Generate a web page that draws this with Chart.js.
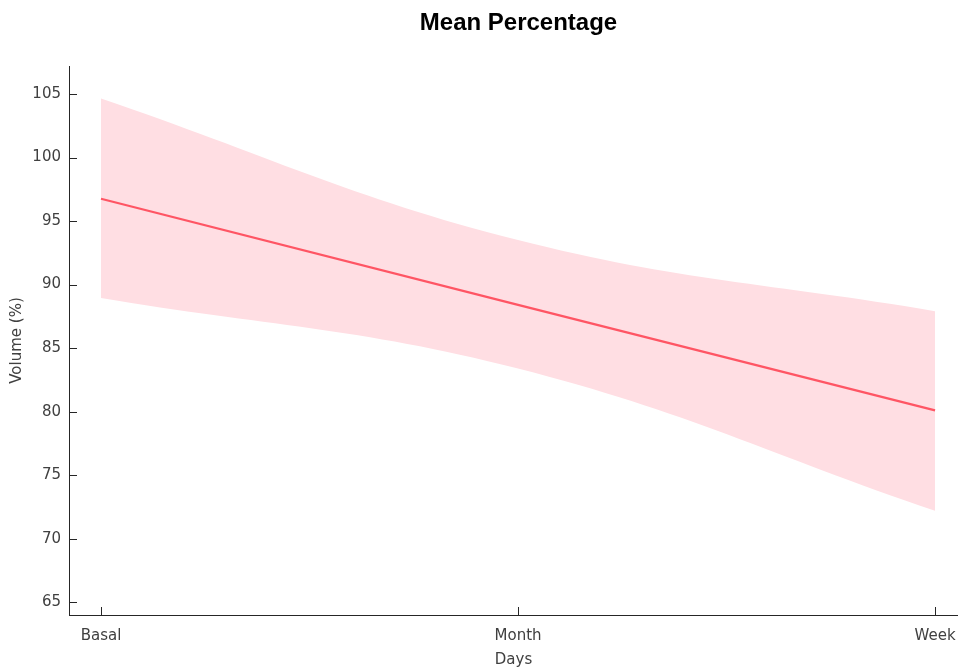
<!DOCTYPE html>
<html>
<head>
<meta charset="utf-8">
<script src="https://cdn.jsdelivr.net/npm/chart.js@4.4.1/dist/chart.umd.min.js"></script>
<style>
html,body{margin:0;padding:0;background:#fff;}
#wrap{width:958px;height:667px;position:relative;}
</style>
</head>
<body>
<div id="wrap"><canvas id="c"></canvas></div>
<script>
const categories = ['Basal', 'Month', 'Week'];
const meanValues = [96.75, 88.4, 80.1];
const upperValues = [104.65, 93.5, 87.9];
const lowerValues = [88.95, 83.4, 72.2];
const yTickValues = [65, 70, 75, 80, 85, 90, 95, 100, 105];
const chartTitle = 'Mean Percentage';
const xTitle = 'Days';
const yTitle = 'Volume (%)';

const toPts = arr => arr.map((v, i) => ({x: i + 1, y: v}));
const textColor = '#404040';
const axisColor = '#262626';
const fontFam = '"DejaVu Sans", sans-serif';

const titlePlugin = {
  id: 'topTitle',
  afterDraw(chart) {
    const ctx = chart.ctx, a = chart.chartArea;
    ctx.save();
    ctx.font = 'bold 24px "Liberation Sans", Arial, sans-serif';
    ctx.fillStyle = '#000';
    ctx.textAlign = 'center';
    ctx.textBaseline = 'middle';
    ctx.fillText(chartTitle, (a.left + a.right) / 2 + 5, 23);
    ctx.restore();
  }
};

const inwardTicks = {
  id: 'inwardTicks',
  afterDraw(chart) {
    const ctx = chart.ctx, a = chart.chartArea;
    const xs = chart.scales.x, ys = chart.scales.y;
    ctx.save();
    ctx.strokeStyle = axisColor;
    ctx.lineWidth = 1;
    ctx.beginPath();
    ys.ticks.forEach(t => {
      const py = Math.round(ys.getPixelForValue(t.value)) + 0.5;
      ctx.moveTo(a.left, py); ctx.lineTo(a.left + 8, py);
    });
    xs.ticks.forEach(t => {
      const px = Math.round(xs.getPixelForValue(t.value)) + 0.5;
      ctx.moveTo(px, a.bottom); ctx.lineTo(px, a.bottom - 8);
    });
    ctx.stroke();
    ctx.restore();
  }
};

new Chart(document.getElementById('c'), {
  type: 'line',
  data: {
    datasets: [
      {
        label: 'Mean',
        data: toPts(meanValues),
        borderColor: 'rgb(255,85,100)',
        borderWidth: 2.2,
        pointRadius: 0,
        tension: 0,
        fill: false
      },
      {
        label: 'Upper',
        data: toPts(upperValues),
        borderWidth: 0,
        borderColor: 'rgba(0,0,0,0)',
        backgroundColor: 'rgba(255,222,227,1)',
        pointRadius: 0,
        tension: 0.4,
        fill: '+1'
      },
      {
        label: 'Lower',
        data: toPts(lowerValues),
        borderWidth: 0,
        borderColor: 'rgba(0,0,0,0)',
        pointRadius: 0,
        tension: 0.4,
        fill: false
      }
    ]
  },
  options: {
    responsive: true,
    maintainAspectRatio: false,
    animation: false,
    layout: {padding: {top: 66, right: 0, left: 0, bottom: 0}},
    plugins: {legend: {display: false}, tooltip: {enabled: false}, title: {display: false}},
    scales: {
      x: {
        type: 'linear',
        min: 0.9233,
        max: 3.055,
        afterBuildTicks: s => { s.ticks = categories.map((c, i) => ({value: i + 1})); },
        afterFit: s => { s.height = 52; s.paddingLeft = 0; s.paddingRight = 0; },
        grid: {display: false, drawTicks: false},
        border: {display: true, color: axisColor, width: 1},
        ticks: {
          callback: v => categories[v - 1] ?? '',
          color: textColor,
          font: {family: fontFam, size: 15},
          padding: 12,
          maxRotation: 0,
          autoSkip: false
        },
        title: {display: true, text: xTitle, color: textColor,
          font: {family: fontFam, size: 15}, padding: {top: 0, bottom: -2}}
      },
      y: {
        min: 64,
        max: 107.2,
        afterBuildTicks: s => { s.ticks = yTickValues.map(v => ({value: v})); },
        afterFit: s => { s.width = 69; s.paddingTop = 0; s.paddingBottom = 0; },
        grid: {display: false, drawTicks: false},
        border: {display: true, color: axisColor, width: 1},
        ticks: {
          color: textColor,
          font: {family: fontFam, size: 15},
          padding: 8
        },
        title: {display: true, text: yTitle, color: textColor,
          font: {family: fontFam, size: 15}, padding: {top: 8, bottom: 0}}
      }
    }
  },
  plugins: [titlePlugin, inwardTicks]
});
</script>
</body>
</html>
